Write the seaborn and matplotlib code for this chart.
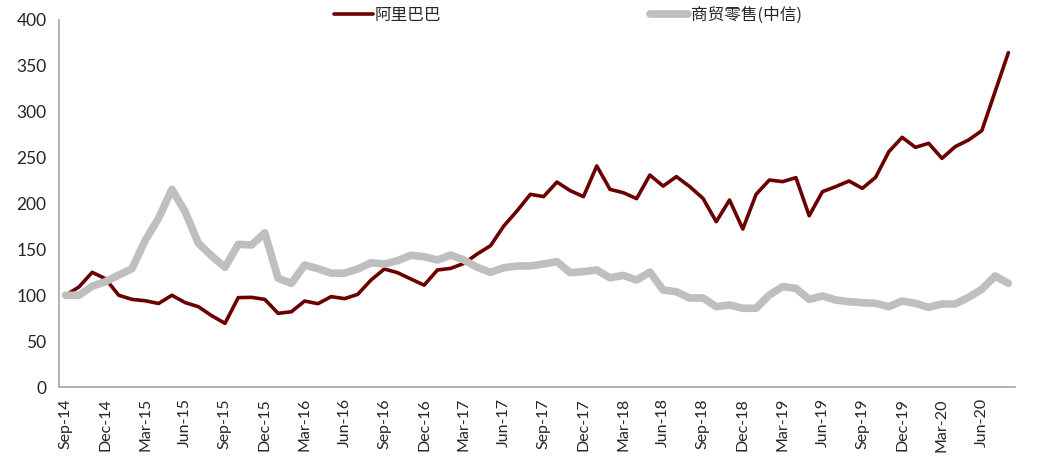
import pandas as pd
import matplotlib
matplotlib.use('Agg')
import matplotlib.pyplot as plt
import seaborn as sns

# monthly index values, Sep-14 .. Aug-20 (base = 100)
months = [f"{m}-{y}" for y in range(14, 21) for m in
          ["Jan", "Feb", "Mar", "Apr", "May", "Jun", "Jul", "Aug", "Sep", "Oct", "Nov", "Dec"]][8:80]

alibaba = [100, 109, 125, 118, 100, 95.5, 94, 91, 100, 92, 87.5, 77.7,
           69.4, 97.4, 97.7, 95.5, 80.3, 82, 93.7, 90.8, 98.5, 96.3, 101, 116.6,
           128.6, 124.6, 117.7, 111, 127.5, 129.3, 134.8, 145, 154, 175.5, 192, 210,
           207.5, 223.4, 214, 207.5, 240.9, 215.4, 211.8, 205.3, 231, 219, 229.3, 218.4,
           205.6, 180.2, 203.8, 172.2, 210, 225.6, 223.8, 228.2, 186.7, 212.9, 218.4, 224.5,
           216.5, 228.5, 256.5, 272.1, 261.2, 265.6, 249.2, 262, 269.2, 279.4, 321.9, 364.4]

retail = [100, 100, 109.8, 114.8, 122, 129, 160, 184, 215.5, 191, 156.6, 142.8,
          130.4, 155.5, 154.8, 168, 118.5, 113, 133, 129, 124, 124, 128.6, 135.4,
          134, 137.7, 143.5, 142, 138.4, 143.8, 138.4, 130.4, 125, 130, 131.8, 132,
          134, 136.6, 124.6, 125.7, 127.5, 119, 121.6, 116.6, 125.3, 105.7, 103.8, 97,
          97, 87.6, 89.4, 85.8, 85.8, 100.3, 109.4, 107.5, 95.5, 99.2, 94.8, 93,
          91.9, 91.2, 87.6, 93.7, 91.2, 86.8, 90.5, 90.5, 97.7, 106.5, 121, 113]

tick_labels = ["Sep-14", "Dec-14", "Mar-15", "Jun-15", "Sep-15", "Dec-15", "Mar-16", "Jun-16",
               "Sep-16", "Dec-16", "Mar-17", "Jun-17", "Sep-17", "Dec-17", "Mar-18", "Jun-18",
               "Sep-18", "Dec-18", "Mar-19", "Jun-19", "Sep-19", "Dec-19", "Mar-20", "Jun-20"]

df = pd.DataFrame({"month": months, "阿里巴巴": alibaba, "商贸零售(中信)": retail})

sns.set_style("white")
plt.rcParams['font.family'] = ['Noto Sans CJK SC', 'DejaVu Sans']

fig = plt.figure(figsize=(10.43, 4.61), dpi=100)
ax = fig.add_axes([59 / 1043, 74 / 461, 956 / 1043, 367 / 461])

sns.lineplot(data=df, x="month", y="阿里巴巴", ax=ax, color="#6B0000",
             linewidth=2.6, label="阿里巴巴", sort=False)
sns.lineplot(data=df, x="month", y="商贸零售(中信)", ax=ax, color="#BFBFBF",
             linewidth=5.5, label="商贸零售(中信)", sort=False, solid_capstyle='round')

ax.set_xlim(-0.5, len(months) - 0.5)
ax.set_ylim(0, 400)
ax.set_yticks(range(0, 401, 50))
ax.set_xticks(range(0, len(months), 3))
ax.set_xticklabels(tick_labels, rotation=90, family='Lato', fontsize=11.5)
ax.set_xticks([x - 0.5 for x in range(0, len(months) + 1, 3)], minor=True)
ax.tick_params(axis='x', which='major', length=0, pad=8)
ax.tick_params(axis='x', which='minor', length=5, width=1, color='#A6A6A6', direction='out')
ax.tick_params(axis='y', length=5, width=1, color='#A6A6A6', direction='out', pad=4)
for lbl in ax.get_yticklabels():
    lbl.set_family('Lato')
    lbl.set_fontsize(12.5)
ax.set_xlabel("")
ax.set_ylabel("")

for s in ["top", "right"]:
    ax.spines[s].set_visible(False)
for s in ["left", "bottom"]:
    ax.spines[s].set_color('#A6A6A6')
    ax.spines[s].set_linewidth(1.2)

ax.get_legend().remove()
handles, labels = ax.get_legend_handles_labels()
fig.legend(handles, labels, loc='center', bbox_to_anchor=(568 / 1043, 1 - 15 / 461),
           ncol=2, frameon=False, handlelength=2.3, handletextpad=0.15,
           columnspacing=12.5, prop={'family': 'Noto Sans CJK SC', 'size': 12})

plt.savefig("out.png", dpi=100)
plt.close()
